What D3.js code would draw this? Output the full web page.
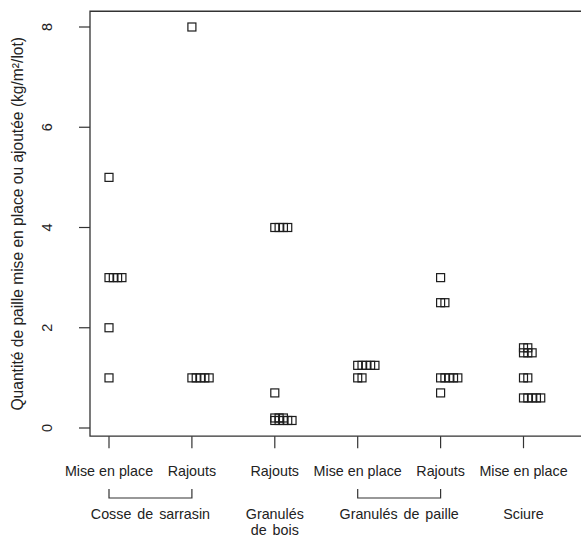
<!DOCTYPE html>
<html>
<head>
<meta charset="utf-8">
<script src="https://cdn.jsdelivr.net/npm/d3@7"></script>
<style>
  html, body { margin: 0; padding: 0; background: #fff; }
  svg { display: block; font-family: "Liberation Sans", Arial, sans-serif; }
</style>
</head>
<body>
<svg id="chart" width="581" height="538"></svg>
<script>
// ---- data ----
const categories = ["Mise en place", "Rajouts", "Rajouts", "Mise en place", "Rajouts", "Mise en place"];
const cosseMise      = [5, 3, 3, 3, 3, 2, 1];
const cosseRajouts   = [8, 1, 1, 1, 1, 1];
const boisRajouts    = [4, 4, 4, 4, 0.7, 0.2, 0.2, 0.2, 0.15, 0.15, 0.15, 0.15, 0.15];
const pailleMise     = [1.25, 1.25, 1.25, 1.25, 1.25, 1, 1];
const pailleRajouts  = [3, 2.5, 2.5, 1, 1, 1, 1, 1, 0.7];
const sciureMise     = [1.6, 1.6, 1.5, 1.5, 1.5, 1, 1, 0.6, 0.6, 0.6, 0.6, 0.6];
const series = [cosseMise, cosseRajouts, boisRajouts, pailleMise, pailleRajouts, sciureMise];
const yTicks = [0, 2, 4, 6, 8];
const groupLabels = [["Cosse de sarrasin"], ["Granulés", "de bois"], ["Granulés de paille"], ["Sciure"]];
const groupFrom = [1, 3, 4, 6];
const groupTo   = [2, 3, 5, 6];
const yTitle = "Quantité de paille mise en place ou ajoutée (kg/m²/lot)";

(function () {
// ---- scales ----
const svg = d3.select("#chart");
const x = d3.scaleLinear().domain([1, 6]).range([109, 523.5]);
const y = d3.scaleLinear().domain([0, 8]).range([428, 27]);
const pLeft = 90, pTop = y(8.314), pBottom = y(-0.164), pRight = 600;
const stackOffset = 0.052; // x-units between stacked duplicates
const sq = 8;
const ink = "#1c1c1c";

// ---- box ----
svg.append("path")
  .attr("d", `M${pRight},${pTop}H${pLeft}V${pBottom}H${pRight}`)
  .attr("fill", "none").attr("stroke", "#333").attr("stroke-width", 1.3);

// ---- y axis ----
const yAxisG = svg.append("g");
yTicks.forEach(t => {
  yAxisG.append("line").attr("x1", pLeft - 11).attr("x2", pLeft)
    .attr("y1", y(t)).attr("y2", y(t)).attr("stroke", "#333").attr("stroke-width", 1.2);
  yAxisG.append("text")
    .attr("transform", `translate(${pLeft - 38},${y(t)}) rotate(-90)`)
    .attr("text-anchor", "middle").attr("font-size", 14.5).attr("fill", "#222")
    .text(t);
});
svg.append("text")
  .attr("transform", `translate(23,${(pTop + pBottom) / 2}) rotate(-90)`)
  .attr("text-anchor", "middle").attr("font-size", 15.6).attr("fill", "#222")
  .text(yTitle);

// ---- x axis ----
categories.forEach((c, i) => {
  const xi = x(i + 1);
  svg.append("line").attr("x1", xi).attr("x2", xi)
    .attr("y1", pBottom).attr("y2", pBottom + 12).attr("stroke", "#333").attr("stroke-width", 1.2);
  svg.append("text").attr("x", xi).attr("y", 476)
    .attr("text-anchor", "middle").attr("font-size", 14.3).attr("fill", "#222").text(c);
});

// ---- brackets & group labels ----
groupLabels.forEach((lines, g) => {
  const x0 = x(groupFrom[g]), x1 = x(groupTo[g]);
  if (groupFrom[g] !== groupTo[g]) {
    svg.append("path")
      .attr("d", `M${x0},489V498H${x1}V489`)
      .attr("fill", "none").attr("stroke", "#333").attr("stroke-width", 1.2);
  }
  lines.forEach((ln, k) => {
    svg.append("text").attr("x", (x0 + x1) / 2).attr("y", 519 + k * 16)
      .attr("text-anchor", "middle").attr("font-size", 14.3).attr("fill", "#222")
      .attr("word-spacing", 2).text(ln);
  });
});

// ---- points (stacked squares) ----
const pts = [];
series.forEach((vals, i) => {
  const counts = new Map();
  vals.forEach(v => {
    const n = counts.get(v) || 0;
    counts.set(v, n + 1);
    pts.push({ xv: i + 1 + n * stackOffset, v });
  });
});
svg.append("g").selectAll("rect").data(pts).join("rect")
  .attr("x", d => x(d.xv) - sq / 2)
  .attr("y", d => y(d.v) - sq / 2)
  .attr("width", sq).attr("height", sq)
  .attr("fill", "none").attr("stroke", ink).attr("stroke-width", 1.2);
})();
</script>
</body>
</html>
